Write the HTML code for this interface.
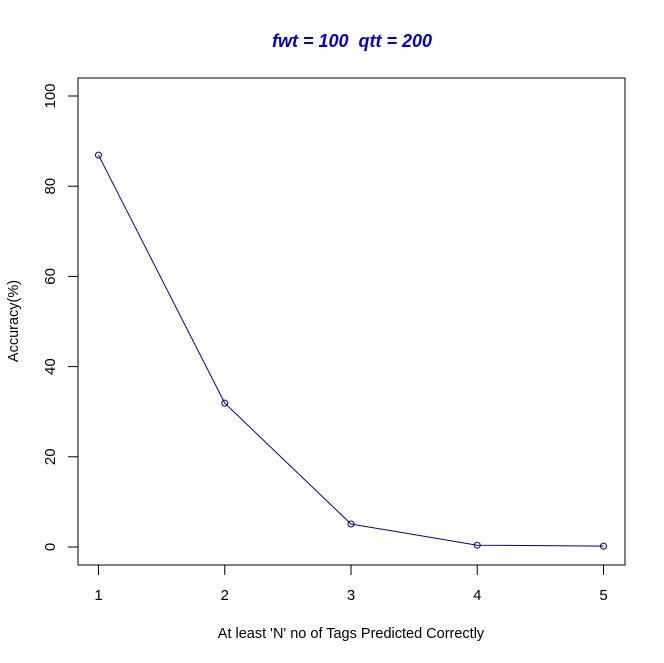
<!DOCTYPE html>
<html><head><meta charset="utf-8"><style>body{margin:0;background:#fff}svg{display:block;font-family:"Liberation Sans",Arial,sans-serif}</style></head>
<body>
<svg id="chart" width="664" height="663" xmlns="http://www.w3.org/2000/svg">
<rect width="664" height="663" fill="#fff"/>
<text x="352" y="47" text-anchor="middle" font-size="18" font-weight="bold" font-style="italic" fill="#0000CD" style="white-space:pre">fwt = 100&#160; qtt = 200</text>
<rect x="78" y="78" width="547" height="487" fill="none" stroke="#000" stroke-width="1"/>
<text x="351" y="638" text-anchor="middle" font-size="14.5">At least 'N' no of Tags Predicted Correctly</text>
<text transform="translate(18,321) rotate(-90)" text-anchor="middle" font-size="14.5">Accuracy(%)</text>
<g id="axes"></g>
<g id="series"></g>
</svg>
<script>
const categories = [1, 2, 3, 4, 5];
const accuracy = [86.9, 31.9, 5.1, 0.4, 0.2];
const yTicks = [0, 20, 40, 60, 80, 100];
const NS = 'http://www.w3.org/2000/svg';
function xs(v){ return 98.5 + (v - 1) * 126.25; }
function ys(v){ return 547 - v * 4.51; }
function mk(tag, attrs, parent){ const e = document.createElementNS(NS, tag); for (const k in attrs) e.setAttribute(k, attrs[k]); parent.appendChild(e); return e; }
const axes = document.getElementById('axes');
const series = document.getElementById('series');
categories.forEach(c => {
  const t = mk('line', {x1: xs(c), x2: xs(c), y1: 565, y2: 575, stroke: '#000'}, axes);
  
  
  const l = mk('text', {x: xs(c), y: 600, 'text-anchor': 'middle', 'font-size': 15}, axes);
  
  
  l.textContent = c;
});
yTicks.forEach(v => {
  const t = mk('line', {x1: 68, x2: 78, y1: ys(v), y2: ys(v), stroke: '#000'}, axes);
  
  
  const l = mk('text', {transform: 'translate(55,' + ys(v) + ') rotate(-90)', 'text-anchor': 'middle', 'font-size': 15}, axes);
  
  
  l.textContent = v;
});
const pts = categories.map((c, i) => xs(c) + ',' + ys(accuracy[i])).join(' ');
const line = mk('polyline', {points: pts, fill: 'none', stroke: '#00008B', 'stroke-width': 1}, series);


categories.forEach((c, i) => {
  const p = mk('circle', {cx: xs(c), cy: ys(accuracy[i]), r: 3, fill: 'none', stroke: '#00008B', 'stroke-width': 1}, series);
  
  
});
</script>
</body></html>
